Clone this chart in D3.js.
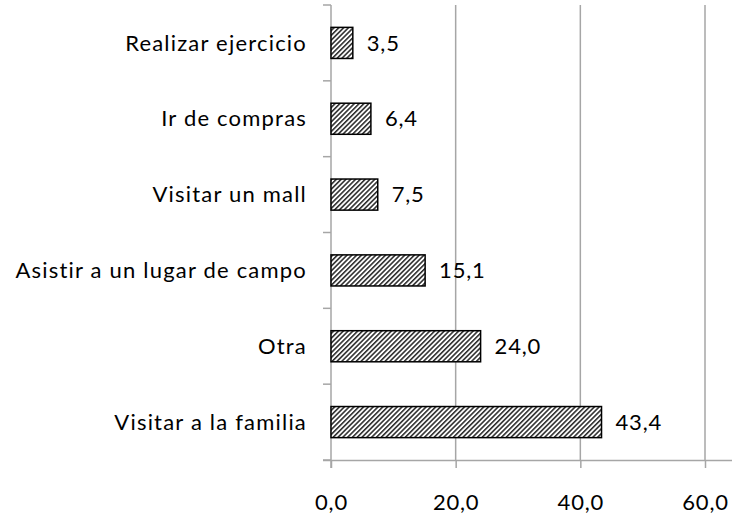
<!DOCTYPE html>
<html><head><meta charset="utf-8">
<script src="https://cdn.jsdelivr.net/npm/d3@7"></script>
<style>body{margin:0;background:#fff}svg{display:block}</style>
</head><body>
<svg id="c" width="732" height="515"></svg>
<script>
const categories = ["Realizar ejercicio","Ir de compras","Visitar un mall","Asistir a un lugar de campo","Otra","Visitar a la familia"];
const values = [3.5, 6.4, 7.5, 15.1, 24.0, 43.4];
const xTicks = [0, 20, 40, 60];

const svg = d3.select("#c");
const font = "Lato, sans-serif";
const fs = 22;
const ls = "1.2px";
const x = d3.scaleLinear().domain([0, 60]).range([331, 705]);
const y = d3.scaleBand().domain(categories).range([5, 460]).paddingInner(0.59).paddingOuter(0.295);
const fmt = v => v.toFixed(1).replace(".", ",");

const defs = svg.append("defs");
const pat = defs.append("pattern").attr("id","hatch").attr("patternUnits","userSpaceOnUse")
  .attr("width",3.4).attr("height",3.4).attr("patternTransform","rotate(45)");
pat.append("rect").attr("width",3.4).attr("height",3.4).attr("fill","#fff");
pat.append("line").attr("x1",0.8).attr("y1",0).attr("x2",0.8).attr("y2",3.4).attr("stroke","#000").attr("stroke-width",1.3);

// gridlines
svg.append("g").selectAll("line").data(xTicks.slice(1)).join("line")
  .attr("x1",d=>x(d)).attr("x2",d=>x(d)).attr("y1",5).attr("y2",460)
  .attr("stroke","#a6a6a6").attr("stroke-width",1.5);

// x axis
const xa = svg.append("g").attr("transform","translate(0,460)")
  .call(d3.axisBottom(x).tickValues(xTicks).tickSize(8).tickFormat(fmt));
xa.select(".domain").attr("stroke","#a6a6a6").attr("stroke-width",1.5).attr("d","M323,0.5H732");
xa.selectAll(".tick line").attr("stroke","#a6a6a6").attr("stroke-width",1.5);
xa.selectAll(".tick text").attr("font-family",font).attr("font-size",fs).attr("fill","#000")
  .attr("y",42).attr("dy","0.35em").attr("letter-spacing","0.8px");

// y axis
const bandTicks = categories.map(c => y(c) - y.step()*y.paddingInner()/2);
bandTicks.push(460);
const ya = svg.append("g");
ya.append("line").attr("x1",331).attr("x2",331).attr("y1",5).attr("y2",468).attr("stroke","#a6a6a6").attr("stroke-width",1.5);
ya.selectAll("line.t").data(bandTicks).join("line").attr("class","t")
  .attr("x1",323).attr("x2",331).attr("y1",d=>d).attr("y2",d=>d).attr("stroke","#a6a6a6").attr("stroke-width",1.5);
ya.selectAll("text").data(categories).join("text")
  .attr("x",307).attr("y",d=>y(d)+y.bandwidth()/2).attr("dy","0.35em")
  .attr("text-anchor","end").attr("font-family",font).attr("font-size",fs).attr("letter-spacing",ls).text(d=>d);

// bars
svg.append("g").selectAll("rect").data(categories).join("rect")
  .attr("x",x(0)).attr("y",d=>y(d)).attr("width",(d,i)=>x(values[i])-x(0)).attr("height",y.bandwidth())
  .attr("fill","url(#hatch)").attr("stroke","#000").attr("stroke-width",1.5);

// value labels
svg.append("g").selectAll("text").data(categories).join("text")
  .attr("x",(d,i)=>x(values[i])+14).attr("y",d=>y(d)+y.bandwidth()/2).attr("dy","0.35em")
  .attr("font-family",font).attr("font-size",fs).attr("letter-spacing","0.8px").text((d,i)=>fmt(values[i]));
</script>
</body></html>
